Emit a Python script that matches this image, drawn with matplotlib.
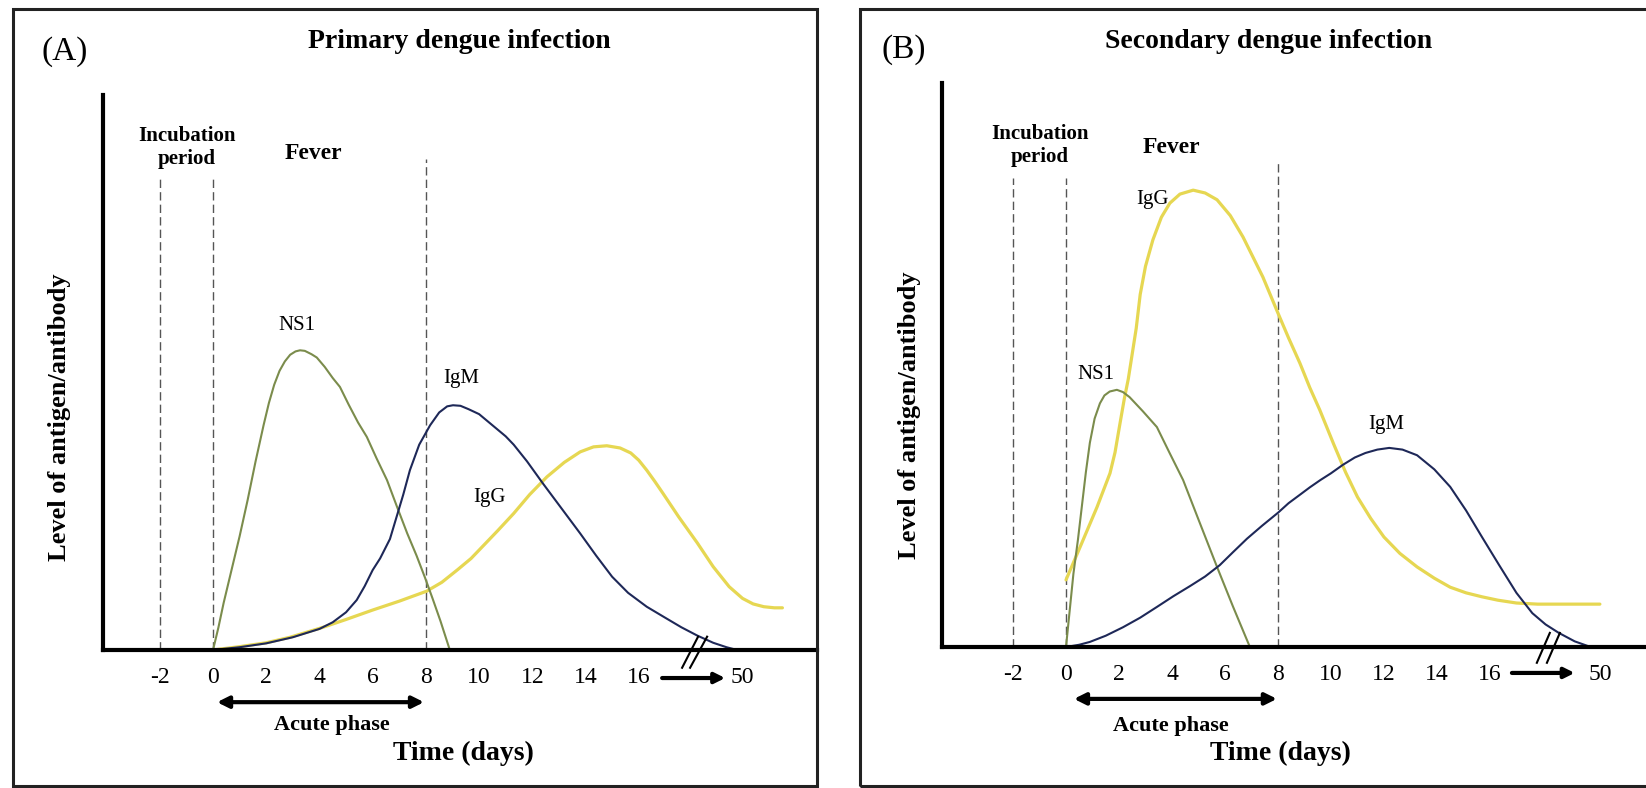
import matplotlib
matplotlib.use("Agg")
import matplotlib.pyplot as plt
from matplotlib.patches import Rectangle

plt.rcParams['font.family'] = ['Liberation Serif', 'DejaVu Serif']
plt.rcParams['axes.unicode_minus'] = False

W, H = 1646, 788

# tick labels on the time axis (the last one sits after the axis break)
day_ticks = [-2, 0, 2, 4, 6, 8, 10, 12, 14, 16]
tick_labels = ["-2", "0", "2", "4", "6", "8", "10", "12", "14", "16", "50"]
phase_lines = [-2, 0, 8]

# (A) primary infection, level as fraction of the y axis height
a_ns1_x = [0, 0.2, 0.4, 0.7, 1.0, 1.3, 1.6, 1.9, 2.1, 2.3, 2.5, 2.7, 2.9, 3.1, 3.27, 3.45,
           3.7, 3.9, 4.2, 4.5, 4.77, 5.1, 5.45, 5.78, 6.15, 6.54, 6.9, 7.3, 7.65, 7.97,
           8.25, 8.55, 8.9]
a_ns1_y = [0, 0.04, 0.085, 0.145, 0.205, 0.27, 0.34, 0.405, 0.445, 0.478, 0.503, 0.52,
           0.532, 0.538, 0.54, 0.539, 0.533, 0.527, 0.51, 0.49, 0.474, 0.442, 0.41, 0.384,
           0.345, 0.306, 0.26, 0.21, 0.17, 0.13, 0.093, 0.052, 0]

a_igm_x = [0, 1, 2, 3, 4, 4.5, 5.0, 5.4, 5.7, 6.0, 6.28, 6.65, 6.9, 7.15, 7.4, 7.75, 8.16,
           8.5, 8.8, 9.02, 9.3, 9.6, 10.0, 10.5, 11.0, 11.3, 11.8, 12.4, 13.1, 13.8, 14.4,
           15.0, 15.6, 16.3, 17.0, 17.6, 18.2, 18.8, 19.3, 19.7]
a_igm_y = [0, 0.005, 0.012, 0.023, 0.038, 0.05, 0.068, 0.09, 0.115, 0.144, 0.165, 0.2,
           0.24, 0.28, 0.324, 0.37, 0.405, 0.428, 0.439, 0.441, 0.44, 0.434, 0.425, 0.405,
           0.385, 0.37, 0.34, 0.30, 0.255, 0.21, 0.17, 0.132, 0.103, 0.078, 0.058, 0.041,
           0.026, 0.013, 0.005, 0]

a_igg_x = [0, 1, 2, 2.9, 4.14, 5, 6, 7, 8.03, 8.6, 9.2, 9.7, 10.2, 10.7, 11.3, 11.9, 12.55,
           13.2, 13.8, 14.3, 14.8, 15.3, 15.7, 16.0, 16.3, 16.6, 16.9, 17.5, 18.2, 18.8,
           19.4, 19.9, 20.3, 20.7, 21.1, 21.4]
a_igg_y = [0, 0.006, 0.013, 0.023, 0.041, 0.055, 0.072, 0.088, 0.106, 0.122, 0.145, 0.165,
           0.19, 0.215, 0.246, 0.28, 0.312, 0.338, 0.357, 0.366, 0.368, 0.364, 0.355, 0.342,
           0.324, 0.304, 0.283, 0.24, 0.193, 0.15, 0.114, 0.093, 0.083, 0.078, 0.076, 0.076]

# (B) secondary infection
b_ns1_x = [0, 0.14, 0.28, 0.45, 0.6, 0.75, 0.9, 1.08, 1.28, 1.45, 1.65, 1.92, 2.15, 2.4,
           2.9, 3.43, 3.9, 4.42, 5.05, 5.7, 6.3, 6.94]
b_ns1_y = [0, 0.065, 0.13, 0.19, 0.25, 0.31, 0.362, 0.405, 0.432, 0.446, 0.453, 0.456,
           0.452, 0.443, 0.418, 0.39, 0.345, 0.296, 0.22, 0.142, 0.072, 0]

b_igg_x = [0, 0.53, 1.17, 1.66, 1.85, 2.04, 2.2, 2.35, 2.5, 2.65, 2.8, 3.0, 3.28, 3.6, 3.92,
           4.3, 4.8, 5.25, 5.7, 6.2, 6.68, 7.05, 7.43, 8.0, 8.4, 8.83, 9.2, 9.58, 10.1,
           10.55, 11.0, 11.5, 12.0, 12.6, 13.25, 13.9, 14.5, 15.1, 15.7, 16.3, 17.0, 17.8,
           18.6, 19.4, 20.15]
b_igg_y = [0.119, 0.177, 0.248, 0.308, 0.345, 0.397, 0.44, 0.475, 0.52, 0.565, 0.625, 0.675,
           0.722, 0.762, 0.787, 0.803, 0.81, 0.805, 0.793, 0.765, 0.727, 0.692, 0.656, 0.592,
           0.548, 0.503, 0.46, 0.42, 0.36, 0.31, 0.266, 0.228, 0.195, 0.166, 0.142, 0.122,
           0.106, 0.096, 0.089, 0.083, 0.078, 0.076, 0.076, 0.076, 0.076]

b_igm_x = [0, 0.5, 0.9, 1.5, 2.15, 2.8, 3.43, 4.05, 4.68, 5.25, 5.8, 6.3, 6.83, 7.4, 8.0,
           8.4, 8.83, 9.2, 9.6, 10.0, 10.45, 10.9, 11.3, 11.75, 12.2, 12.7, 13.25, 13.9,
           14.5, 15.1, 15.7, 16.35, 17.0, 17.6, 18.1, 18.6, 19.2, 19.8]
b_igm_y = [0, 0.004, 0.009, 0.02, 0.035, 0.052, 0.071, 0.09, 0.108, 0.125, 0.145, 0.168,
           0.192, 0.215, 0.238, 0.255, 0.27, 0.283, 0.296, 0.308, 0.323, 0.336, 0.344, 0.35,
           0.353, 0.35, 0.34, 0.315, 0.284, 0.242, 0.195, 0.145, 0.096, 0.06, 0.04, 0.025,
           0.01, 0]

NS1_C = '#7b8c4c'
IGM_C = '#1e2858'
IGG_C = '#e6d752'


def fx(x):
    return x / W


def fy(y):
    return 1 - y / H


fig = plt.figure(figsize=(16.46, 7.88), dpi=100)

# panel frames
fig.add_artist(Rectangle((fx(13), fy(786)), fx(817) - fx(13), fy(9) - fy(786),
                         transform=fig.transFigure, fill=False, lw=2.2, ec='#222'))
fig.add_artist(Rectangle((fx(860), fy(786)), fx(1670) - fx(860), fy(9) - fy(786),
                         transform=fig.transFigure, fill=False, lw=2.2, ec='#222'))


def panel(box, xlim, curves, texts, pos50, brk, acute, arr50, dash_top):
    l, b, r, t = box
    ax = fig.add_axes([fx(l), fy(b), fx(r) - fx(l), fy(t) - fy(b)])
    ax.set_xlim(*xlim)
    ax.set_ylim(0, 1)
    for s in ['top', 'right']:
        ax.spines[s].set_visible(False)
    for s in ['left', 'bottom']:
        ax.spines[s].set_linewidth(3)
        ax.spines[s].set_color('k')
    ax.set_yticks([])
    ax.set_xticks(day_ticks + [pos50], tick_labels)
    ax.tick_params(axis='x', length=0, pad=12, labelsize=17)
    ax.patch.set_alpha(0)

    for d in phase_lines:
        top = dash_top[1] if d == 8 else dash_top[0]
        ax.plot([d, d], [0, top], ls=(0, (6, 3)), color='#555', lw=1)

    for xs, ys, c, lw in curves:
        ax.plot(xs, ys, color=c, lw=lw, solid_joinstyle='round',
                solid_capstyle='round', clip_on=False)

    for x, y, s, kw in texts:
        ax.text(x, y, s, ha='center', va='center', clip_on=False, **kw)

    # axis break marks
    for x0, x1 in brk[0]:
        ax.plot([x0, x1], [brk[1], brk[2]], color='k', lw=1.5, clip_on=False)

    ax.annotate('', xy=(acute[1], acute[2]), xytext=(acute[0], acute[2]),
                arrowprops=dict(arrowstyle='<|-|>', lw=3, color='k', mutation_scale=17,
                                shrinkA=0, shrinkB=0), annotation_clip=False)
    ax.annotate('', xy=(arr50[1], arr50[2]), xytext=(arr50[0], arr50[2]),
                arrowprops=dict(arrowstyle='-|>', lw=3, color='k', mutation_scale=15,
                                shrinkA=0, shrinkB=0), annotation_clip=False)
    return ax


bold = dict(fontweight='bold')

panel((103, 650, 817, 95), (-4.135, 22.7),
      [(a_igg_x, a_igg_y, IGG_C, 2.3), (a_ns1_x, a_ns1_y, NS1_C, 1.5),
       (a_igm_x, a_igm_y, IGM_C, 1.5)],
      [(-0.98, 0.905, "Incubation\nperiod", dict(fontsize=15, fontweight='bold', linespacing=1.2)),
       (3.76, 0.895, "Fever", dict(fontsize=17, fontweight='bold')),
       (3.16, 0.584, "NS1", dict(fontsize=15)),
       (9.32, 0.49, "IgM", dict(fontsize=15)),
       (10.4, 0.274, "IgG", dict(fontsize=15)),
       (4.47, -0.135, "Acute phase", dict(fontsize=16, fontweight='bold')),
       (9.4, -0.186, "Time (days)", dict(fontsize=20, fontweight='bold'))],
      19.9, ([(17.63, 18.23), (17.93, 18.57)], -0.032, 0.024),
      (0.15, 7.93, -0.094), (16.88, 19.25, -0.0505), (0.852, 0.885))

panel((942, 647, 1646, 83), (-4.68, 21.89),
      [(b_igg_x, b_igg_y, IGG_C, 2.3), (b_ns1_x, b_ns1_y, NS1_C, 1.5),
       (b_igm_x, b_igm_y, IGM_C, 1.5)],
      [(-0.98, 0.89, "Incubation\nperiod", dict(fontsize=15, fontweight='bold', linespacing=1.2)),
       (3.96, 0.885, "Fever", dict(fontsize=17, fontweight='bold')),
       (3.28, 0.793, "IgG", dict(fontsize=15)),
       (1.13, 0.484, "NS1", dict(fontsize=15)),
       (12.1, 0.394, "IgM", dict(fontsize=15)),
       (3.96, -0.14, "Acute phase", dict(fontsize=16, fontweight='bold')),
       (8.1, -0.188, "Time (days)", dict(fontsize=20, fontweight='bold'))],
      20.15, ([(17.77, 18.26), (18.15, 18.64)], -0.028, 0.025),
      (0.3, 7.96, -0.092), (16.83, 19.2, -0.046), (0.832, 0.858))

fig.text(fx(65), fy(52), "(A)", fontsize=24, ha='center', va='center')
fig.text(fx(904), fy(50), "(B)", fontsize=24, ha='center', va='center')
fig.text(fx(459), fy(42), "Primary dengue infection", fontsize=20, ha='center', va='center', **bold)
fig.text(fx(1269), fy(42), "Secondary dengue infection", fontsize=20, ha='center', va='center', **bold)
fig.text(fx(60), fy(417), "Level of antigen/antibody", fontsize=19, rotation=90,
         ha='center', va='center', **bold)
fig.text(fx(910), fy(415), "Level of antigen/antibody", fontsize=19, rotation=90,
         ha='center', va='center', **bold)

fig.savefig("out.png", dpi=100, facecolor='white')
